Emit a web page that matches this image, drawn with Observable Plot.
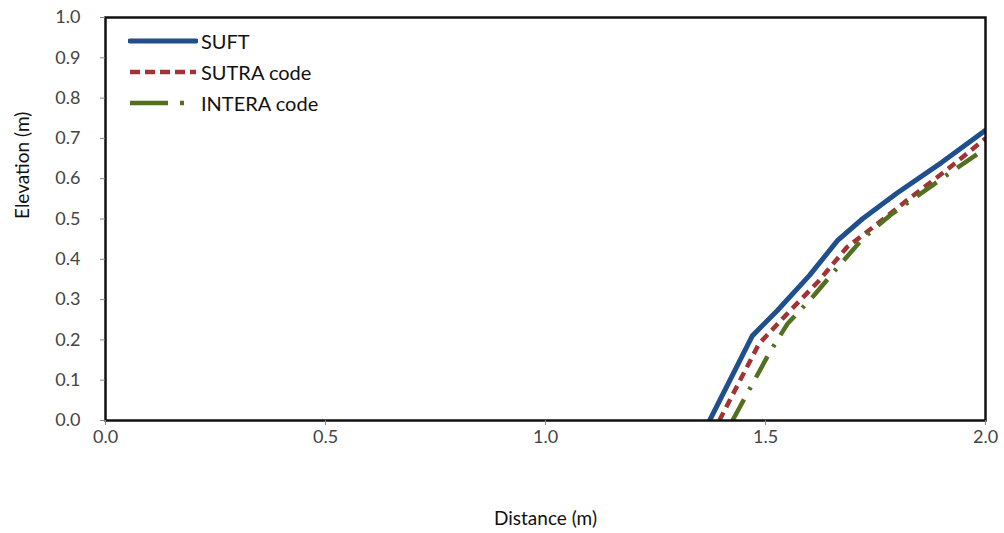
<!DOCTYPE html>
<html><head><meta charset="utf-8">
<script src="https://cdn.jsdelivr.net/npm/d3@7"></script>
<script src="https://cdn.jsdelivr.net/npm/@observablehq/plot@0.6"></script>
<style>
body{margin:0;background:#fff;}
#wrap{position:relative;width:1004px;height:533px;font-family:Lato,"Open Sans",sans-serif;}
#legend{position:absolute;left:128px;top:25px;font-size:20px;color:#111;}
#legend div{display:flex;align-items:center;height:31px;}
#legend svg{margin-right:3px;}
</style></head>
<body><div id="wrap"><div id="legend"></div></div>
<script>
const xTicks = [0, 0.5, 1.0, 1.5, 2.0];
const yTicks = [0, 0.1, 0.2, 0.3, 0.4, 0.5, 0.6, 0.7, 0.8, 0.9, 1.0];
const seriesNames = ["SUFT", "SUTRA code", "INTERA code"];
const suftX = [1.373, 1.47, 1.527, 1.60, 1.664, 1.72, 1.80, 1.90, 2.0];
const suftY = [0.0, 0.21, 0.273, 0.36, 0.447, 0.50, 0.565, 0.64, 0.72];
const sutraX = [1.395, 1.485, 1.545, 1.62, 1.685, 1.745, 1.82, 1.91, 2.0];
const sutraY = [0.0, 0.19, 0.26, 0.345, 0.43, 0.48, 0.545, 0.62, 0.70];
const interaX = [1.425, 1.51, 1.55, 1.61, 1.664, 1.72, 1.784, 1.92, 2.0];
const interaY = [0.0, 0.17, 0.24, 0.31, 0.38, 0.45, 0.51, 0.615, 0.675];
const colors = ["#1f4f8c", "#a33333", "#52701f"];
const dashes = [null, "9,6", "24,11,3,11"];
const widths = [5, 4.5, 4.5];

const toRows = (xs, ys) => xs.map((x, i) => ({x, y: ys[i]}));
const data = [toRows(suftX, suftY), toRows(sutraX, sutraY), toRows(interaX, interaY)];

const chart = Plot.plot({
  width: 1004, height: 533,
  marginLeft: 105, marginTop: 17, marginRight: 19, marginBottom: 113,
  style: {fontFamily: "Lato, 'Open Sans', sans-serif", background: "#fff"},
  x: {domain: [0, 2]},
  y: {domain: [0, 1]},
  marks: [
    ...data.map((d, i) => Plot.line(d, {x: "x", y: "y", stroke: colors[i], strokeWidth: widths[i], strokeDasharray: dashes[i], strokeLinecap: i === 0 ? "round" : "butt", strokeLinejoin: "round", clip: true})),
    Plot.frame({stroke: "#111", strokeWidth: 2.5}),
    Plot.axisX({ticks: xTicks, tickFormat: d3.format(".1f"), tickSize: 5, tickPadding: 5, fontSize: 18, fill: "#444", stroke: "#888", label: null}),
    Plot.axisY({ticks: yTicks, tickFormat: d3.format(".1f"), tickSize: 5, tickPadding: 20, fontSize: 18, fill: "#444", stroke: "#888", label: null}),
    Plot.text(["Distance (m)"], {frameAnchor: "bottom", dy: 104, fontSize: 19, fill: "#111"}),
    Plot.text(["Elevation (m)"], {frameAnchor: "left", rotate: -90, dx: -83, fontSize: 19, fill: "#111"})
  ]
});
document.getElementById("wrap").prepend(chart);
chart.style.position = "absolute"; chart.style.left = "0"; chart.style.top = "0";

const legend = d3.select("#legend");
seriesNames.forEach((name, i) => {
  const row = legend.append("div");
  const s = row.append("svg").attr("width", 70).attr("height", 10);
  s.append("line").attr("x1", 2).attr("x2", 68).attr("y1", 5).attr("y2", 5)
    .attr("stroke", colors[i]).attr("stroke-width", widths[i])
    .attr("stroke-dasharray", i === 1 ? "10,5" : i === 2 ? "38,12,4,20" : null)
    .attr("stroke-linecap", i === 0 ? "round" : "butt");
  row.append("span").text(name);
});
</script></body></html>
